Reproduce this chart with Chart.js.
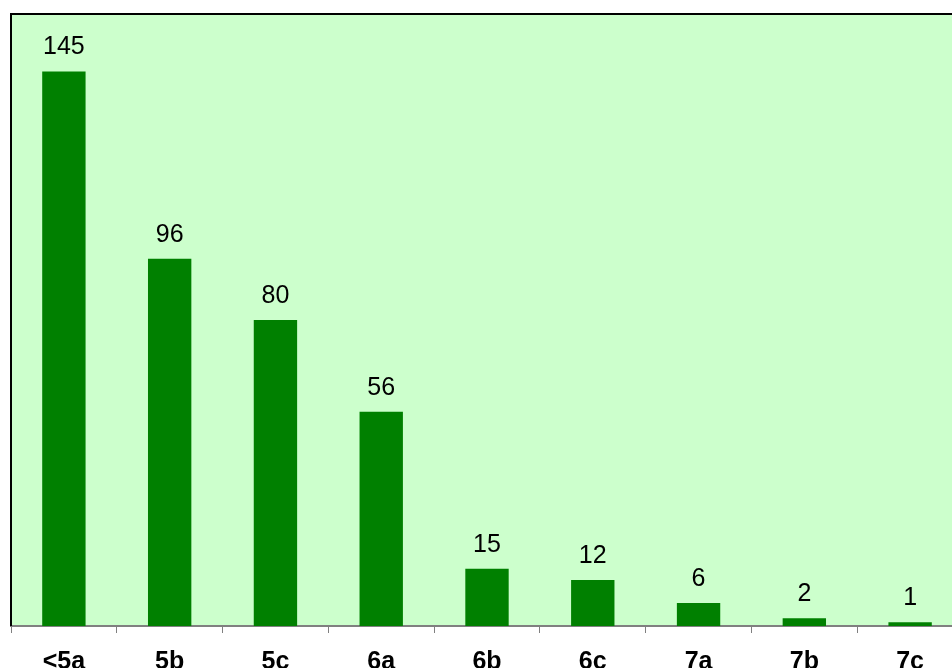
<!DOCTYPE html>
<html>
<head>
<meta charset="utf-8">
<script src="https://cdn.jsdelivr.net/npm/chart.js@4"></script>
<style>
  html, body { margin: 0; padding: 0; background: #ffffff; overflow: hidden; }
  #wrap { width: 975px; height: 668px; }
</style>
</head>
<body>
<div id="wrap"><canvas id="c" width="975" height="668"></canvas></div>
<script>
const categories = ['<5a', '5b', '5c', '6a', '6b', '6c', '7a', '7b', '7c'];
const counts = [145, 96, 80, 56, 15, 12, 6, 2, 1];
const yMin = 0;
const yMax = 160;

const plotStyle = {
  id: 'plotStyle',
  beforeDraw(chart) {
    const { ctx, chartArea: a } = chart;
    ctx.save();
    ctx.fillStyle = '#CCFFCC';
    ctx.fillRect(a.left, a.top, a.right - a.left, a.bottom - a.top);
    ctx.restore();
  },
  afterDraw(chart) {
    const { ctx, chartArea: a } = chart;
    ctx.save();
    ctx.strokeStyle = '#000000';
    ctx.lineWidth = 2;
    ctx.beginPath();
    ctx.moveTo(a.left, a.bottom);
    ctx.lineTo(a.left, a.top);
    ctx.lineTo(a.right, a.top);
    ctx.lineTo(a.right, a.bottom);
    ctx.stroke();
    ctx.restore();
  }
};

const valueLabels = {
  id: 'valueLabels',
  afterDatasetsDraw(chart) {
    const { ctx } = chart;
    const meta = chart.getDatasetMeta(0);
    ctx.save();
    ctx.font = '25px "Liberation Sans", Arial, sans-serif';
    ctx.fillStyle = '#000000';
    ctx.textAlign = 'center';
    ctx.textBaseline = 'alphabetic';
    meta.data.forEach((bar, i) => {
      ctx.fillText(String(counts[i]), bar.x, bar.y - 17);
    });
    ctx.restore();
  }
};

new Chart(document.getElementById('c'), {
  type: 'bar',
  data: {
    labels: categories,
    datasets: [{
      data: counts,
      backgroundColor: '#008000',
      borderWidth: 0,
      categoryPercentage: 1,
      barPercentage: 0.41
    }]
  },
  options: {
    responsive: false,
    animation: false,
    devicePixelRatio: 1,
    layout: { padding: { left: 11, top: 14, right: 12, bottom: 0 } },
    plugins: {
      legend: { display: false },
      tooltip: { enabled: false },
      title: { display: false }
    },
    scales: {
      x: {
        offset: true,
        grid: {
          display: true,
          offset: true,
          drawOnChartArea: false,
          drawTicks: true,
          tickLength: 7,
          color: '#808080',
          lineWidth: 1
        },
        border: { display: true, color: '#808080', width: 2 },
        ticks: {
          color: '#000000',
          padding: 14,
          autoSkip: false,
          maxRotation: 0,
          font: { family: '"Liberation Sans", Arial, sans-serif', size: 25, weight: 'bold' }
        },
        afterFit(scale) { scale.height = 42; }
      },
      y: {
        display: false,
        min: yMin,
        max: yMax
      }
    }
  },
  plugins: [plotStyle, valueLabels]
});
</script>
</body>
</html>
